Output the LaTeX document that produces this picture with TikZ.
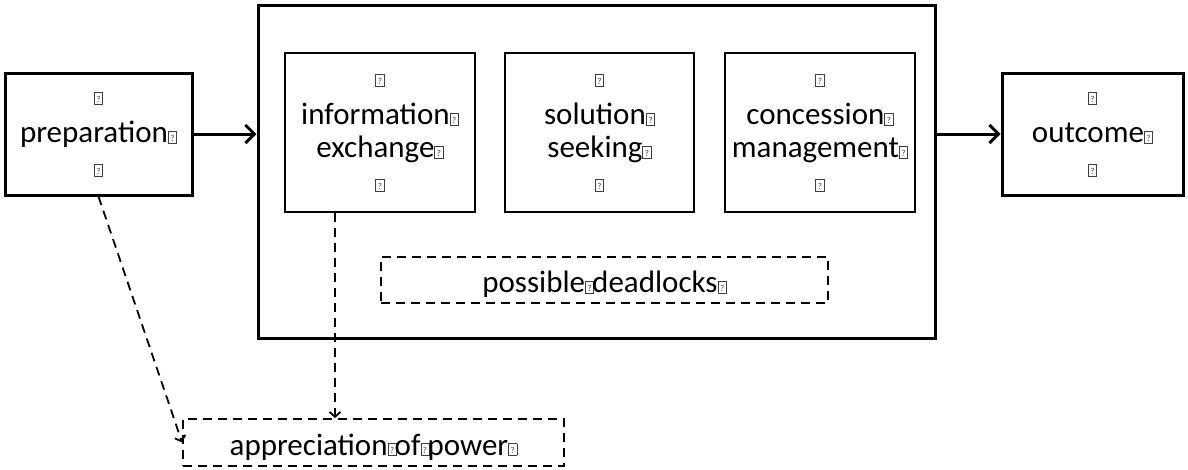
\documentclass[tikz,border=0pt]{standalone}
\usepackage{fontspec}
\setmainfont{Carlito}
\usetikzlibrary{arrows.meta}
\newcommand\qb{{\setlength\fboxsep{0pt}\setlength\fboxrule{0.8pt}\color{black!75}\fbox{\raisebox{0pt}[11pt][0pt]{\makebox[7.5pt]{\fontsize{9}{9}\selectfont\raisebox{1.5pt}{?}}}}}}
\begin{document}
\begin{tikzpicture}[x=1pt,y=-1pt,
  every node/.style={font=\fontsize{31}{33}\selectfont, align=center, inner sep=0pt},
  thickbox/.style={draw, line width=3pt, rectangle},
  thinbox/.style={draw, line width=1.5pt, rectangle},
  dashbox/.style={draw, line width=1.8pt, rectangle, dash pattern=on 9pt off 6pt, text height=32pt, text depth=7pt},
  arr/.style={line width=3pt, -{Straight Barb[length=9pt,width=18pt,line width=3pt]}},
  darr/.style={line width=1.8pt, dash pattern=on 9pt off 6pt, -{Straight Barb[length=5pt,width=11pt,line width=1.8pt]}}
]
\useasboundingbox (0,0) rectangle (1188,469);
\node[thickbox, minimum width=187pt, minimum height=122pt] (prep) at (98.5,134) {\qb\\[6pt]preparation\qb\\\qb};
\node[thickbox, minimum width=677pt, minimum height=333pt] (big) at (596.5,171.5) {};
\node[thinbox, minimum width=190pt, minimum height=159pt] (info) at (380,132.5) {\qb\\[6pt]information\qb\\exchange\qb\\\qb};
\node[thinbox, minimum width=189pt, minimum height=159pt] (sol) at (599.5,132.5) {\qb\\[6pt]solution\qb\\seeking\qb\\\qb};
\node[thinbox, minimum width=190pt, minimum height=159pt] (conc) at (820,132.5) {\qb\\[6pt]concession\qb\\management\qb\\\qb};
\node[thickbox, minimum width=181pt, minimum height=122pt] (out) at (1092.5,134) {\qb\\[6pt]outcome\qb\\\qb};
\node[dashbox, minimum width=447pt, minimum height=46pt] (dead) at (604.5,280) {possible\qb\kern-2pt deadlocks\qb};
\node[dashbox, minimum width=381pt, minimum height=47pt] (appr) at (373.5,442.5) {appreciation\qb\kern-2pt of\qb\kern-2pt power\qb};
\draw[arr] (prep.east) -- (big.west |- prep.east);
\draw[arr] (big.east |- out.west) -- (out.west);
\coordinate (infobot) at ([xshift=-45pt]info.south);
\draw[darr] (infobot) -- (infobot |- appr.north);
\draw[darr] (prep.south) -- (appr.west);
\end{tikzpicture}
\end{document}
